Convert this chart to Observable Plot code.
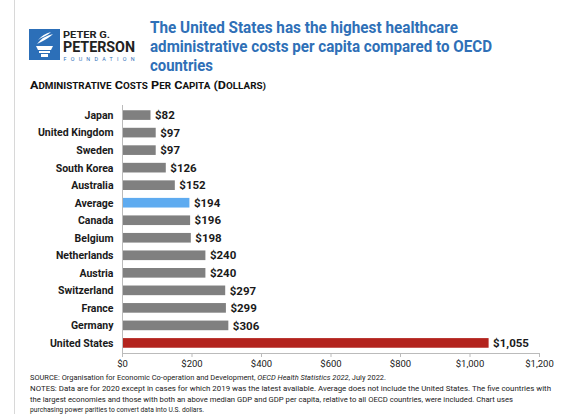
<!DOCTYPE html>
<html><head><meta charset="utf-8">
<script src="https://cdn.jsdelivr.net/npm/d3@7"></script>
<script src="https://cdn.jsdelivr.net/npm/@observablehq/plot@0.6"></script>
<style>
body{margin:0;background:#fff;}
#wrap{position:relative;width:566px;height:414px;overflow:hidden;background:#fff;font-family:Roboto,sans-serif;}
#border{position:absolute;left:14px;top:0;width:1px;height:414px;background:#d8d8d8;}
#chart{position:absolute;left:0;top:100px;}
#over{position:absolute;left:0;top:0;}
</style></head>
<body><div id="wrap">
<div id="border"></div>
<div id="chart"></div>
<svg id="over" width="566" height="414" font-family="Roboto, sans-serif">
  <g id="logo">
    <rect x="29" y="29" width="31" height="31" fill="#2c6fb8"/>
    <path d="M36 46 h17 l-2 4 h-13 z" fill="#fff"/>
    <path d="M39 51 h11 v2 h-11 z" fill="#fff"/>
    <path d="M41 54 h7 v3 h-7 z" fill="#fff"/>
    <path d="M37 44 q6 -8 16 -10 q-4 4 -12 8 z" fill="#fff"/>
    <path d="M38 40 q5 -6 13 -8 q-3 3 -10 6 z" fill="#fff"/>
    <text x="63" y="37.5" font-weight="bold" font-size="9.5" fill="#222" textLength="47" lengthAdjust="spacingAndGlyphs">PETER G.</text>
    <text x="63" y="51.5" font-weight="bold" font-size="14.5" fill="#222" textLength="72" lengthAdjust="spacingAndGlyphs">PETERSON</text>
    <text x="63.5" y="60.5" font-size="5.4" fill="#2c6fb8" textLength="71" lengthAdjust="spacing">FOUNDATION</text>
  </g>
  <g id="title" fill="#2f70b7" font-weight="bold" font-size="16.5"></g>
  <text id="sub" x="30" y="89" font-weight="bold" fill="#111" textLength="236" lengthAdjust="spacingAndGlyphs"></text>
  <g id="foot" font-size="7.3" fill="#222"></g>
</svg>
</div>
<script>
// ---- data ----
const countries = ["Japan","United Kingdom","Sweden","South Korea","Australia","Average","Canada","Belgium","Netherlands","Austria","Switzerland","France","Germany","United States"];
const costs = [82,97,97,126,152,194,196,198,240,240,297,299,306,1055];
const kinds = ["country","country","country","country","country","average","country","country","country","country","country","country","country","us"];
const xTicks = [0,200,400,600,800,1000,1200];
const titleLines = ["The United States has the highest healthcare","administrative costs per capita compared to OECD","countries"];
const subtitleWords = ["Administrative","Costs","Per","Capita","(Dollars)"];
const footLines = [
  ["SOURCE: Organisation for Economic Co-operation and Development, ", "OECD Health Statistics 2022", ", July 2022."],
  ["NOTES: Data are for 2020 except in cases for which 2019 was the latest available. Average does not include the United States. The five countries with"],
  ["the largest economies and those with both an above median GDP and GDP per capita, relative to all OECD countries, were included. Chart uses"],
  ["purchasing power parities to convert data into U.S. dollars."]
];

// ---- header / footer text ----
const ns = "http://www.w3.org/2000/svg";
const titleG = document.getElementById("title");
const tLayout = [[33, 308], [52, 342], [70.5, 63]];
titleLines.forEach((s, i) => {
  const t = document.createElementNS(ns, "text");
  t.setAttribute("x", 150); t.setAttribute("y", tLayout[i][0]);
  t.setAttribute("textLength", tLayout[i][1]); t.setAttribute("lengthAdjust", "spacingAndGlyphs");
  t.textContent = s; titleG.appendChild(t);
});
const sub = document.getElementById("sub");
subtitleWords.forEach((w, i) => {
  let lead = w[0], rest = w.slice(1);
  if (lead === "(") { lead = w.slice(0, 2); rest = w.slice(2); }
  const a = document.createElementNS(ns, "tspan");
  a.setAttribute("font-size", "11"); a.textContent = (i ? " " : "") + lead.toUpperCase();
  const b = document.createElementNS(ns, "tspan");
  b.setAttribute("font-size", "8.6"); b.textContent = rest.toUpperCase();
  sub.appendChild(a); sub.appendChild(b);
});
const footG = document.getElementById("foot");
const fLayout = [[380, 356], [390.8, 521], [401.5, 483], [412.2, 174]];
footLines.forEach((parts, i) => {
  const t = document.createElementNS(ns, "text");
  t.setAttribute("x", 30); t.setAttribute("y", fLayout[i][0]);
  t.setAttribute("textLength", fLayout[i][1]); t.setAttribute("lengthAdjust", "spacingAndGlyphs");
  parts.forEach((p, j) => {
    const s = document.createElementNS(ns, "tspan");
    if (parts.length > 1 && j === 1) s.setAttribute("font-style", "italic");
    s.textContent = p; t.appendChild(s);
  });
  footG.appendChild(t);
});

// ---- chart ----
const data = countries.map((c, i) => ({country: c, cost: costs[i], kind: kinds[i]}));
const fmt = d3.format("$,");

const chart = Plot.plot({
  width: 566,
  height: 272,
  marginLeft: 122,
  marginRight: 27,
  marginTop: 5,
  marginBottom: 19,
  style: {fontFamily: "Roboto, sans-serif", background: "transparent"},
  x: {domain: [0, 1200], ticks: xTicks, tickFormat: fmt, label: null},
  y: {domain: countries, paddingInner: 0.45, paddingOuter: 0.3, round: false, label: null},
  color: {domain: ["country", "average", "us"], range: ["#808080", "#5eabf0", "#b3231d"]},
  marks: [
    Plot.barX(data, {y: "country", x: "cost", fill: "kind"}),
    Plot.text(data, {y: "country", x: "cost", text: d => fmt(d.cost), dx: 4, textAnchor: "start", fontWeight: "bold", fontSize: 11.5, fill: "#1a1a1a"}),
    Plot.ruleX([0], {stroke: "#bbb"}),
    Plot.frame({anchor: "bottom", stroke: "#bbb"}),
    Plot.axisY({tickSize: 0, tickPadding: 9, fontWeight: "bold", fontSize: 10.5, fill: "#1a1a1a", label: null}),
    Plot.axisX({ticks: xTicks, tickFormat: fmt, tickSize: 4, stroke: "#bbb", fill: "#1a1a1a", fontSize: 9.5, tickPadding: 3, label: null})
  ]
});
document.getElementById("chart").appendChild(chart);
</script>
</body></html>
